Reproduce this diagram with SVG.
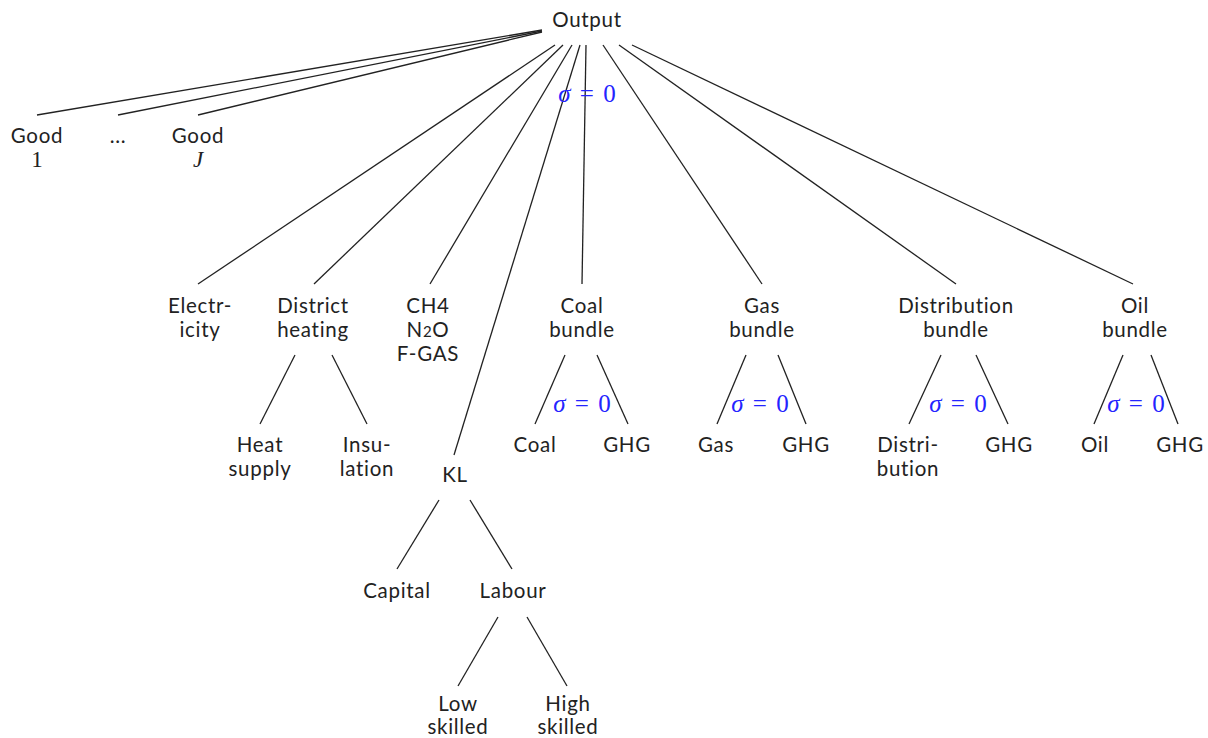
<svg xmlns="http://www.w3.org/2000/svg" width="1208" height="738" viewBox="0 0 1208 738">
<style>
.t{font-family:"Lato","Noto Sans",sans-serif;font-size:20.5px;letter-spacing:0.7px;fill:#222;text-anchor:middle}
.m{font-family:"Liberation Serif","DejaVu Serif",serif;font-size:23px;fill:#222;letter-spacing:0}
.s{font-family:"Liberation Serif","DejaVu Serif",serif;font-size:25px;fill:#2424ff;text-anchor:middle;word-spacing:3px}
.i{font-style:italic}
#connectors line{stroke:#222;stroke-width:1.3;fill:none}
</style>
<rect width="1208" height="738" fill="#fff"/>
<g id="connectors">
<line x1="542" y1="30" x2="37" y2="115"/>
<line x1="542" y1="31" x2="118" y2="115"/>
<line x1="542" y1="32" x2="198" y2="115"/>
<line x1="555" y1="45" x2="198" y2="284"/>
<line x1="563" y1="45" x2="314" y2="284"/>
<line x1="572" y1="45" x2="430" y2="284"/>
<line x1="580" y1="45" x2="454" y2="455"/>
<line x1="586" y1="45" x2="582" y2="284"/>
<line x1="603" y1="45" x2="762" y2="284"/>
<line x1="619" y1="45" x2="956" y2="284"/>
<line x1="632" y1="45" x2="1133" y2="284"/>
<line x1="295" y1="355" x2="260" y2="424"/>
<line x1="332" y1="355" x2="367" y2="424"/>
<line x1="565" y1="355" x2="535" y2="424"/>
<line x1="597" y1="355" x2="628" y2="424"/>
<line x1="746" y1="355" x2="717" y2="424"/>
<line x1="778" y1="355" x2="806" y2="424"/>
<line x1="941" y1="355" x2="909" y2="424"/>
<line x1="976" y1="355" x2="1008" y2="424"/>
<line x1="1123" y1="355" x2="1094" y2="424"/>
<line x1="1151" y1="355" x2="1178" y2="424"/>
<line x1="439" y1="500" x2="397" y2="569"/>
<line x1="470" y1="500" x2="512" y2="569"/>
<line x1="498" y1="617" x2="458" y2="686"/>
<line x1="527" y1="617" x2="567" y2="686"/>
</g>
<g id="output"><text class="t" x="587" y="27">Output</text></g>
<g id="sigma-top"><text class="s" x="587" y="102"><tspan class="i">σ</tspan> = 0</text></g>
<g id="good1"><text class="t" x="37" y="143">Good<tspan class="m" x="37" y="167">1</tspan></text></g>
<g id="dots"><text class="t" x="118" y="143">...</text></g>
<g id="goodJ"><text class="t" x="198" y="143">Good<tspan class="m i" x="198" y="167">J</tspan></text></g>
<g id="electricity"><text class="t" x="200" y="313">Electr-<tspan x="200" y="337">icity</tspan></text></g>
<g id="district"><text class="t" x="313" y="313">District<tspan x="313" y="337">heating</tspan></text></g>
<g id="gases"><text class="t" x="428" y="313">CH4<tspan x="428" y="337">N</tspan><tspan font-size="15">2</tspan><tspan>O</tspan><tspan x="428" y="361">F-GAS</tspan></text></g>
<g id="coalbundle"><text class="t" x="582" y="313">Coal<tspan x="582" y="337">bundle</tspan></text></g>
<g id="gasbundle"><text class="t" x="762" y="313">Gas<tspan x="762" y="337">bundle</tspan></text></g>
<g id="distbundle"><text class="t" x="956" y="313">Distribution<tspan x="956" y="337">bundle</tspan></text></g>
<g id="oilbundle"><text class="t" x="1135" y="313">Oil<tspan x="1135" y="337">bundle</tspan></text></g>
<g id="heatsupply"><text class="t" x="260" y="452">Heat<tspan x="260" y="476">supply</tspan></text></g>
<g id="insulation"><text class="t" x="367" y="452">Insu-<tspan x="367" y="476">lation</tspan></text></g>
<g id="kl"><text class="t" x="455" y="482">KL</text></g>
<g id="sigma-coal"><text class="s" x="582" y="412"><tspan class="i">σ</tspan> = 0</text></g>
<g id="coal"><text class="t" x="535" y="452">Coal</text></g>
<g id="ghg-coal"><text class="t" x="627" y="452">GHG</text></g>
<g id="sigma-gas"><text class="s" x="760" y="412"><tspan class="i">σ</tspan> = 0</text></g>
<g id="gas"><text class="t" x="716" y="452">Gas</text></g>
<g id="ghg-gas"><text class="t" x="806" y="452">GHG</text></g>
<g id="sigma-dist"><text class="s" x="958" y="412"><tspan class="i">σ</tspan> = 0</text></g>
<g id="distribution"><text class="t" x="908" y="452">Distri-<tspan x="908" y="476">bution</tspan></text></g>
<g id="ghg-dist"><text class="t" x="1009" y="452">GHG</text></g>
<g id="sigma-oil"><text class="s" x="1136" y="412"><tspan class="i">σ</tspan> = 0</text></g>
<g id="oil"><text class="t" x="1095" y="452">Oil</text></g>
<g id="ghg-oil"><text class="t" x="1180" y="452">GHG</text></g>
<g id="capital"><text class="t" x="397" y="598">Capital</text></g>
<g id="labour"><text class="t" x="513" y="598">Labour</text></g>
<g id="lowskilled"><text class="t" x="458" y="711">Low<tspan x="458" y="734">skilled</tspan></text></g>
<g id="highskilled"><text class="t" x="568" y="711">High<tspan x="568" y="734">skilled</tspan></text></g>
</svg>
